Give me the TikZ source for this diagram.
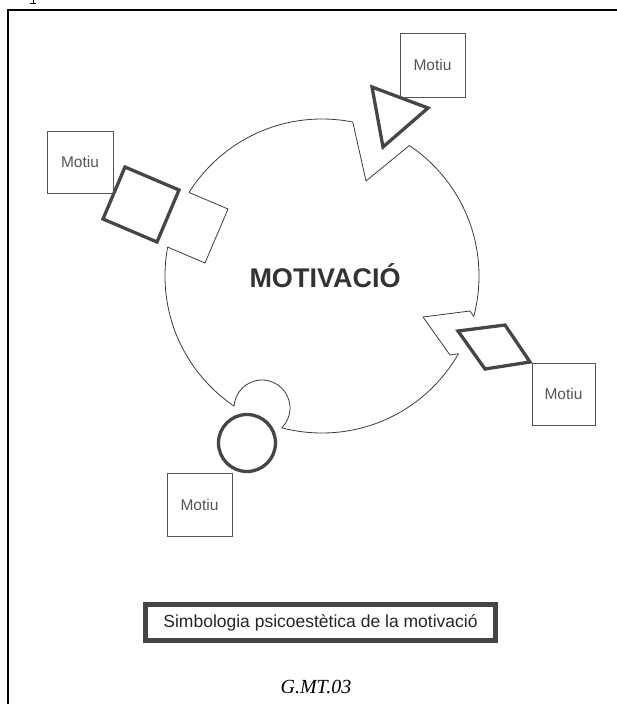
\documentclass[tikz,border=0pt]{standalone}
\usepackage{fontspec}
\setmainfont{Liberation Serif}
\newfontfamily\arialfont{Liberation Sans}
\usepackage{tikz}
\usetikzlibrary{positioning, calc}
\definecolor{inkgray}{RGB}{60, 60, 60}
\definecolor{pengray}{RGB}{85, 85, 85}
\definecolor{markgray}{RGB}{70, 70, 70}

\tikzset{
  outline/.style={draw=inkgray, line width=0.8pt, line join=miter},
  heavy/.style={draw=markgray, line width=3.3pt, line join=miter},
  motiubox/.style={draw=pengray, line width=0.9pt, inner sep=0pt, text=pengray,
    font=\arialfont\fontsize{15.5}{18}\selectfont},
}

\begin{document}
\begin{tikzpicture}[x=1pt, y=-1pt]
  \useasboundingbox (0,0) rectangle (616,704);
  % page frame
  \draw[line width=1.2pt] (8,712) -- (8,10) -- (620,10);
  \draw[line width=0.8pt] (33,0) -- (33,3) (30,3) -- (36,3);

  % circle, cut where the four shapes came out
  \begin{scope}[even odd rule]
    \clip (0,0) rectangle (616,704)
      (366,181) -- (340,65) -- (454,109) -- cycle
      (228,209) -- (205,263) -- (151,240) -- (174,186) -- cycle
      (423,317) -- (470,311) -- (495,348) -- (450,355) -- cycle
      (262,408) circle[radius=28];
    \draw[outline] (322,276) circle[radius=157];
  \end{scope}
  \begin{scope}
    \clip (322,276) circle[radius=157];
    \draw[outline] (366,181) -- (340,65) -- (454,109) -- cycle;
    \draw[outline] (228,209) -- (205,263) -- (151,240) -- (174,186) -- cycle;
    \draw[outline] (423,317) -- (470,311) -- (495,348) -- (450,355) -- cycle;
    \draw[outline] (262,408) circle[radius=28];
  \end{scope}
  \node[font=\arialfont\bfseries\fontsize{27}{32}\selectfont, text=black!80, anchor=base] (motivacio) at (325,287) {MOTIVACIÓ};

  % the shapes that left the circle
  \draw[heavy] (372,87) -- (428,108) -- (383,147) -- cycle;
  \draw[heavy] (125,167) -- (179,190) -- (157,242) -- (103,219) -- cycle;
  \draw[heavy] (458,331) -- (505,325) -- (530,362) -- (485,369) -- cycle;
  \draw[heavy] (247,443) circle[radius=28.5];

  % motiu boxes
  \node[motiubox, minimum width=65, minimum height=64] (motiutri) at (432.5,65) {Motiu};
  \node[motiubox, minimum width=66, minimum height=62] (motiusq) at (80,162) {Motiu};
  \node[motiubox, minimum width=63, minimum height=62] (motiurh) at (563.5,394) {Motiu};
  \node[motiubox, minimum width=65, minimum height=63] (motiuci) at (199.5,504.5) {Motiu};

  % caption
  \node[draw=markgray, line width=5pt, minimum width=350, minimum height=36, inner sep=0pt,
        font=\arialfont\fontsize{17.5}{20}\selectfont, text=black!85] (legend) at (320.5,622.5)
        {Simbologia psicoestètica de la motivació};
  \node[font=\itshape\fontsize{20}{24}\selectfont, anchor=base] (code) at (316,693) {G.MT.03};
\end{tikzpicture}
\end{document}
